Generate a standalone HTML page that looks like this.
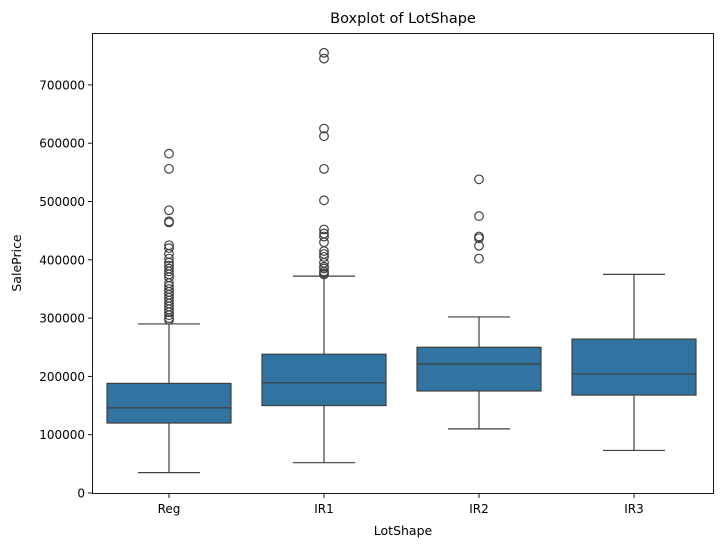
<!DOCTYPE html>
<html><head><meta charset="utf-8"><style>
body{margin:0;background:#fff;font-family:"Liberation Sans","DejaVu Sans",sans-serif;}
svg text{font-family:"DejaVu Sans","Liberation Sans",sans-serif;}
</style></head><body>
<svg id="chart" width="721" height="547" viewBox="0 0 721 547" xmlns="http://www.w3.org/2000/svg">
<rect width="721" height="547" fill="#fff"/>
<text x="403" y="23" font-size="14.5" text-anchor="middle" fill="#000">Boxplot of LotShape</text>
<text x="403" y="535" font-size="12.5" text-anchor="middle" fill="#000">LotShape</text>
<text x="21" y="263" font-size="12.5" text-anchor="middle" fill="#000" transform="rotate(-90 21 263)">SalePrice</text>
<g id="plot"></g>
<rect x="92.5" y="33.5" width="621" height="460" fill="none" stroke="#000" stroke-width="0.9"/>
</svg>
<script>
const categories=["Reg","IR1","IR2","IR3"];
const whiskerLow=[35000,52000,110000,73000];
const q1=[120000,150000,175000,168000];
const medians=[146000,189000,221000,204000];
const q3=[188000,238000,250000,264000];
const whiskerHigh=[290000,372000,302000,375000];
const outliers=[
[582000,556000,485000,466000,464000,425000,420000,410000,402000,395000,390000,385000,380000,375000,370000,360000,355000,350000,345000,340000,335000,330000,325000,320000,315000,310000,305000,300000,297000],
[755000,745000,625000,612000,556000,502000,452000,445000,440000,430000,415000,410000,405000,395000,388000,385000,380000,377000,375000],
[538000,475000,440000,437000,424000,402000],
[]];
const yTicks=[0,100000,200000,300000,400000,500000,600000,700000];
const NS="http://www.w3.org/2000/svg";
const g=document.getElementById('plot');
const y=v=>493-v/100000*58.3;
const x=i=>169+i*155;
const bw=124;
function el(t,a){const e=document.createElementNS(NS,t);for(const k in a)e.setAttribute(k,a[k]);g.appendChild(e);return e;}
yTicks.forEach(t=>{
 const l=el('line',{x1:88,x2:92.5,y1:y(t),y2:y(t),stroke:'#000','stroke-width':0.9});
 
 
 const tx=el('text',{x:85,y:y(t)+4.5,'font-size':12,'text-anchor':'end',fill:'#000'});
 tx.textContent=t;
 
 
});
categories.forEach((c,i)=>{
 const cx=x(i),col='#3f3f3f';
 const l=el('line',{x1:cx,x2:cx,y1:498,y2:493.5,stroke:'#000','stroke-width':0.9});
 
 
 const tx=el('text',{x:cx,y:513,'font-size':12,'text-anchor':'middle',fill:'#000'});
 tx.textContent=c;
 
 
 const w1=el('line',{x1:cx,x2:cx,y1:y(whiskerLow[i]),y2:y(q1[i]),stroke:col,'stroke-width':1.2});
 
 
 const w2=el('line',{x1:cx,x2:cx,y1:y(q3[i]),y2:y(whiskerHigh[i]),stroke:col,'stroke-width':1.2});
 
 
 const c1=el('line',{x1:cx-bw/4,x2:cx+bw/4,y1:y(whiskerLow[i]),y2:y(whiskerLow[i]),stroke:col,'stroke-width':1.2});
 
 
 const c2=el('line',{x1:cx-bw/4,x2:cx+bw/4,y1:y(whiskerHigh[i]),y2:y(whiskerHigh[i]),stroke:col,'stroke-width':1.2});
 
 
 const b=el('rect',{x:cx-bw/2,y:y(q3[i]),width:bw,height:y(q1[i])-y(q3[i]),fill:'#3274a1',stroke:col,'stroke-width':1.2});
 
 
 const m=el('line',{x1:cx-bw/2,x2:cx+bw/2,y1:y(medians[i]),y2:y(medians[i]),stroke:col,'stroke-width':1.2});
 
 
 outliers[i].forEach(v=>{
  const o=el('circle',{cx:cx,cy:y(v),r:4.3,fill:'none',stroke:col,'stroke-width':1.2});
  
  
 });
});
</script>
</body></html>
